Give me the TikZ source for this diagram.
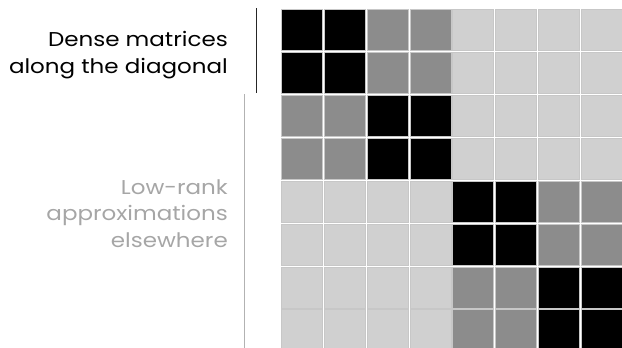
\documentclass[tikz,border=0pt]{standalone}
\usepackage{fontspec}
\setmainfont{Poppins}
\newfontfamily\captionfont[FakeStretch=1.15]{Poppins}
\usetikzlibrary{positioning}

\definecolor{nearblock}{HTML}{8C8C8C}
\definecolor{farblock}{HTML}{D0D0D0}
\definecolor{captiongray}{HTML}{A6A6A6}

\begin{document}
\begin{tikzpicture}[x=1pt,y=-1pt,
  cell/.style={draw=black!22, line width=0.4pt, minimum size=41pt,
    inner sep=0pt, outer sep=0pt},
  caption/.style={align=right, anchor=base east, inner sep=0pt,
    font=\captionfont\fontsize{20}{26.5}\selectfont}]
  \useasboundingbox (0,0) rectangle (622,348);

  % 8x8 block matrix
  \foreach \r in {0,...,7} {
    \foreach \c in {0,...,7} {
      \pgfmathtruncatemacro{\br}{\r/2}
      \pgfmathtruncatemacro{\bc}{\c/2}
      \pgfmathtruncatemacro{\qr}{\r/4}
      \pgfmathtruncatemacro{\qc}{\c/4}
      \ifnum\br=\bc \def\shade{black}\else
        \ifnum\qr=\qc \def\shade{nearblock}\else \def\shade{farblock}\fi
      \fi
      \node[cell, fill=\shade] (cell-\r-\c) at (301.5+\c*42.9, 29.8+\r*42.9) {};
    }
  }

  % Captions
  \node[caption] (dense) at (228,73) {Dense matrices\\along the diagonal};
  \node[caption, text=captiongray] (lowrank) at (228,247)
    {Low-rank\\approximations\\elsewhere};

  % Brackets
  \draw[line width=1.3pt, black!85] (256.5,8) -- (256.5,93);
  \draw[line width=1.3pt, black!30] (244.7,94) -- (244.7,348);
\end{tikzpicture}
\end{document}
